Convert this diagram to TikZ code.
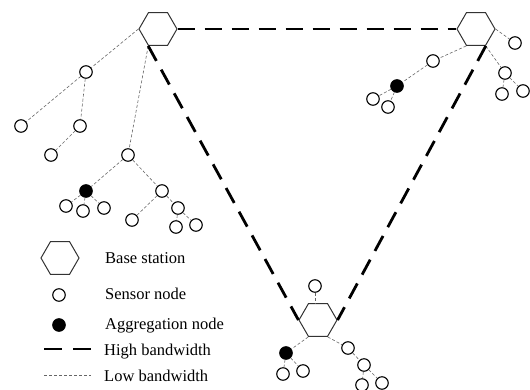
\documentclass[tikz,border=0pt]{standalone}
\usepackage{fontspec}
\setmainfont{Liberation Serif}
\usetikzlibrary{shapes.geometric}
\begin{document}
\begin{tikzpicture}[x=1pt,y=-1pt,
  sensor/.style={circle,draw=black,fill=white,line width=1.1pt,minimum size=12.5pt,inner sep=0pt},
  aggr/.style={sensor,fill=black},
  station/.style={regular polygon,regular polygon sides=6,draw=black!80,line width=1pt,fill=white,minimum size=38pt,inner sep=0pt},
  highbw/.style={line width=2.8pt,dash pattern=on 17pt off 10pt},
  lowbw/.style={line width=0.6pt,draw=black!60,dash pattern=on 3pt off 2pt},
  lbl/.style={anchor=base west,inner sep=0pt,font=\fontsize{16.5}{19}\selectfont}]
\useasboundingbox (0,0) rectangle (530,389);
% base stations
\node[station] (h1) at (158,29) {};
\node[station] (h2) at (476,29) {};
\node[station] (h3) at (318,320) {};
% left tree
\node[sensor] (A) at (86,72) {};
\node[sensor] (B) at (21,126) {};
\node[sensor] (C) at (80,126) {};
\node[sensor] (D) at (51,155) {};
\node[sensor] (E) at (128,155) {};
\node[aggr]   (F) at (86,191) {};
\node[sensor] (G) at (66,206) {};
\node[sensor] (H) at (83,211) {};
\node[sensor] (I) at (104,208) {};
\node[sensor] (J) at (162,191) {};
\node[sensor] (K) at (132,220) {};
\node[sensor] (L) at (178,208) {};
\node[sensor] (M) at (176,227) {};
\node[sensor] (N) at (196,225) {};
% right tree
\node[sensor] (P) at (433,61) {};
\node[aggr]   (Q) at (397,86) {};
\node[sensor] (R) at (373,99) {};
\node[sensor] (S) at (388,107) {};
\node[sensor] (T) at (515,43) {};
\node[sensor] (U) at (505,73) {};
\node[sensor] (V) at (502,94) {};
\node[sensor] (W) at (523,91) {};
% bottom tree
\node[sensor] (X) at (315,286) {};
\node[aggr]   (Y) at (286,353) {};
\node[sensor] (Z1) at (283,374) {};
\node[sensor] (Z2) at (303,371) {};
\node[sensor] (AA) at (348,348) {};
\node[sensor] (BB) at (364,365) {};
\node[sensor] (CC) at (362,385) {};
\node[sensor] (DD) at (382,383) {};
% low bandwidth links
\begin{scope}[on background layer/.try]
\draw[lowbw] (h1.180) -- (A);
\draw[lowbw] (A) -- (B);
\draw[lowbw] (A) -- (C);
\draw[lowbw] (C) -- (D);
\draw[lowbw] (h1.240) -- (E);
\draw[lowbw] (E) -- (F);
\draw[lowbw] (F) -- (G);
\draw[lowbw] (F) -- (H);
\draw[lowbw] (F) -- (I);
\draw[lowbw] (E) -- (J);
\draw[lowbw] (J) -- (K);
\draw[lowbw] (J) -- (L);
\draw[lowbw] (L) -- (M);
\draw[lowbw] (L) -- (N);
\draw[lowbw] (h2.240) -- (P);
\draw[lowbw] (P) -- (Q);
\draw[lowbw] (Q) -- (R);
\draw[lowbw] (Q) -- (S);
\draw[lowbw] (h2.0) -- (T);
\draw[lowbw] (h2.300) -- (U);
\draw[lowbw] (U) -- (V);
\draw[lowbw] (U) -- (W);
\draw[lowbw] (X) -- (X |- h3.north);
\draw[lowbw] (h3.240) -- (Y);
\draw[lowbw] (Y) -- (Z1);
\draw[lowbw] (Y) -- (Z2);
\draw[lowbw] (h3.300) -- (AA);
\draw[lowbw] (AA) -- (BB);
\draw[lowbw] (BB) -- (CC);
\draw[lowbw] (BB) -- (DD);
\end{scope}
% high bandwidth links
\draw[highbw] (h1.0) -- (h2.180);
\draw[highbw] (h1.240) -- (h3.180);
\draw[highbw] (h2.300) -- (h3.0);
% legend
\node[station] (lh) at (60,258) {};
\node[sensor] (ls) at (59,295) {};
\node[aggr] (la) at (59,325) {};
\coordinate (lhA) at (44,349);
\coordinate (lhB) at (91,349);
\coordinate (llA) at (44,375);
\coordinate (llB) at (91,375);
\draw[highbw,dash pattern=on 18pt off 11pt] (lhA) -- (lhB);
\draw[lowbw] (llA) -- (llB);
\node[lbl] (t1) at (105,263) {Base station};
\node[lbl] (t2) at (105,299) {Sensor node};
\node[lbl] (t3) at (105,329) {Aggregation node};
\node[lbl] (t4) at (104,355) {High bandwidth};
\node[lbl] (t5) at (104,381) {Low bandwidth};
\end{tikzpicture}
\end{document}
